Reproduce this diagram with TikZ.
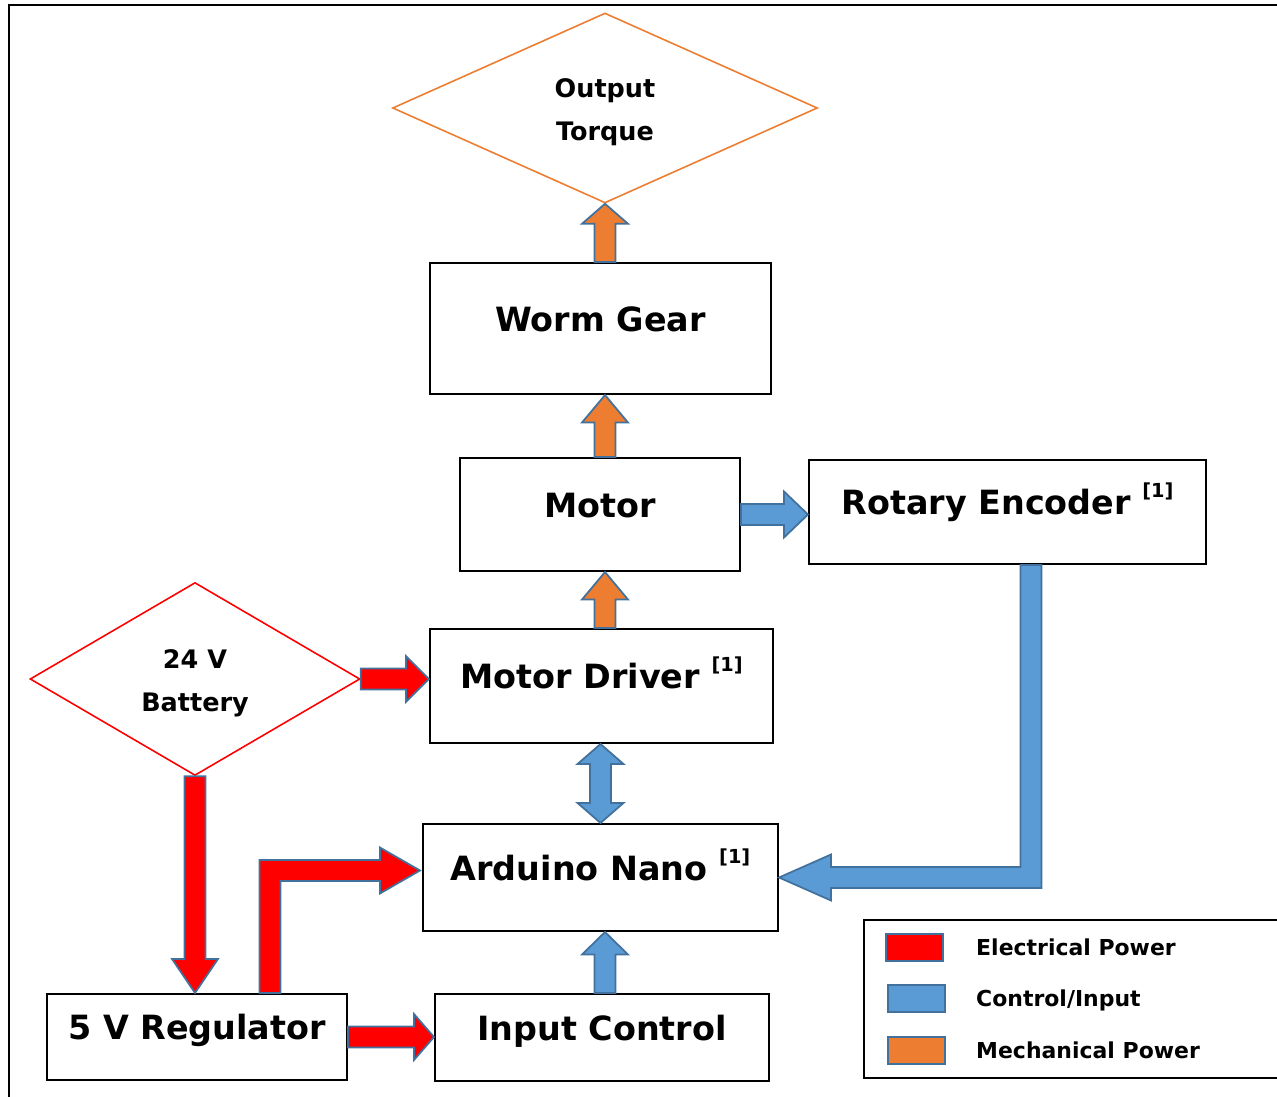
\documentclass[tikz,border=0pt]{standalone}
\usepackage{fontspec}
\setmainfont{DejaVu Sans}
\usetikzlibrary{positioning, shapes.geometric, calc}

\definecolor{elecred}{RGB}{255,0,0}
\definecolor{ctrlblue}{RGB}{91,155,213}
\definecolor{mechorange}{RGB}{237,125,49}
\definecolor{arrowedge}{RGB}{65,113,156}

\tikzset{
  block/.style={draw, line width=1.2pt, fill=white, inner sep=0pt, text height=12pt, text depth=9pt,
    font=\bfseries\fontsize{19}{23}\selectfont},
  goal/.style={diamond, draw, line width=0.9pt, inner sep=0pt, align=center,
    text height=36.5pt, text depth=0pt, font=\bfseries\fontsize{14.5}{24}\selectfont},
  elec/.style={fill=elecred, draw=arrowedge, line width=1pt},
  ctrl/.style={fill=ctrlblue, draw=arrowedge, line width=1pt},
  mech/.style={fill=mechorange, draw=arrowedge, line width=1pt},
  swatch/.style={draw=arrowedge, line width=1pt, minimum width=1.14cm, minimum height=0.54cm, inner sep=0pt},
  keytext/.style={inner sep=0pt, text height=12.2pt, text depth=3pt, font=\bfseries\fontsize{12.5}{15}\selectfont}
}

% reference mark after a part name
\newcommand{\refmark}{\raisebox{9.5pt}{\fontsize{11}{11}\selectfont [1]}}

% half widths of arrow shaft and head
\newcommand{\shaftw}{0.21cm}
\newcommand{\headw}{0.46cm}

% straight block arrow: [head length]{style}{tail}{tip}
\newcommand{\blockarrow}[4][0.44cm]{%
  \coordinate (neck) at ($(#4)!#1!(#3)$);
  \draw[#2] ($(#3)!\shaftw!90:(#4)$) -- ($(neck)!\shaftw!90:(#4)$) -- ($(neck)!\headw!90:(#4)$) -- (#4)
    -- ($(neck)!\headw!-90:(#4)$) -- ($(neck)!\shaftw!-90:(#4)$) -- ($(#3)!\shaftw!-90:(#4)$) -- cycle;}

% block arrow with a head at both ends: [head length]{style}{end a}{end b}
\newcommand{\twowayarrow}[4][0.4cm]{%
  \coordinate (neck a) at ($(#3)!#1!(#4)$);
  \coordinate (neck b) at ($(#4)!#1!(#3)$);
  \draw[#2] (#3) -- ($(neck a)!\headw!90:(#4)$) -- ($(neck a)!\shaftw!90:(#4)$)
    -- ($(neck b)!\shaftw!90:(#4)$) -- ($(neck b)!\headw!90:(#4)$) -- (#4)
    -- ($(neck b)!\headw!-90:(#4)$) -- ($(neck b)!\shaftw!-90:(#4)$)
    -- ($(neck a)!\shaftw!-90:(#4)$) -- ($(neck a)!\headw!-90:(#4)$) -- cycle;}

% bent block arrow: [head length]{style}{tail}{corner}{tip}
\newcommand{\bentarrow}[5][0.8cm]{%
  \coordinate (neck) at ($(#5)!#1!(#4)$);
  \draw[#2] ($(#3)!\shaftw!90:(#4)$)
    -- ($(#4)!\shaftw!90:(#5) + (#3)!\shaftw!90:(#4) - (#3)$)
    -- ($(neck)!\shaftw!90:(#5)$) -- ($(neck)!\headw!90:(#5)$) -- (#5)
    -- ($(neck)!\headw!-90:(#5)$) -- ($(neck)!\shaftw!-90:(#5)$)
    -- ($(#4)!\shaftw!-90:(#5) + (#3)!\shaftw!-90:(#4) - (#3)$)
    -- ($(#3)!\shaftw!-90:(#4)$) -- cycle;}

\begin{document}
\begin{tikzpicture}[x=0.02cm, y=-0.02cm]
  \useasboundingbox (0,0) rectangle (1277,1097);
  \clip (0,0) rectangle (1277,1097);
  \draw[line width=1.6pt] (9,5) rectangle (1320,1130);

  % parts
  \node[goal, draw=mechorange, minimum width=8.5cm, minimum height=3.8cm] (torque) at (605,108) {Output\\Torque};
  \node[block, minimum width=6.82cm, minimum height=2.62cm] (worm) at (600.5,328.5) {Worm Gear};
  \node[block, minimum width=5.6cm, minimum height=2.26cm] (motor) at (600,514.5) {Motor};
  \node[block, minimum width=7.94cm, minimum height=2.08cm] (enc) at (1007.5,512) {Rotary Encoder \refmark};
  \node[block, minimum width=6.86cm, minimum height=2.28cm] (drv) at (601.5,686) {Motor Driver \refmark};
  \node[goal, draw=elecred, minimum width=6.6cm, minimum height=3.86cm] (bat) at (195,679) {24 V\\Battery};
  \node[block, minimum width=7.1cm, minimum height=2.14cm] (ard) at (600.5,877.5) {Arduino Nano \refmark};
  \node[block, minimum width=6cm, minimum height=1.72cm] (reg) at (197,1037) {5 V Regulator};
  \node[block, minimum width=6.68cm, minimum height=1.74cm] (input) at (602,1037.5) {Input Control};

  % mechanical power
  \coordinate (gear out) at (torque.south |- worm.north);
  \coordinate (motor out) at (torque.south |- motor.north);
  \coordinate (gear in) at (torque.south |- worm.south);
  \coordinate (drv out) at (torque.south |- drv.north);
  \coordinate (motor in) at (torque.south |- motor.south);
  \blockarrow[0.4cm]{mech}{gear out}{torque.south}
  \blockarrow[0.55cm]{mech}{motor out}{gear in}
  \blockarrow[0.55cm]{mech}{drv out}{motor in}

  % control / input
  \coordinate (enc in) at (motor.east -| enc.west);
  \blockarrow[0.48cm]{ctrl}{motor.east}{enc in}
  \coordinate (drv link) at (ard.north |- drv.south);
  \twowayarrow[0.4cm]{ctrl}{ard.north}{drv link}
  \coordinate (fb top) at ($(enc.south)+(23.5,0)$);
  \coordinate (fb bend) at (fb top |- ard.east);
  \bentarrow[1.04cm]{ctrl}{fb top}{fb bend}{ard.east}
  \coordinate (in top) at ($(input.north)+(3,0)$);
  \coordinate (ard in) at (in top |- ard.south);
  \blockarrow[0.45cm]{ctrl}{in top}{ard in}

  % electrical power
  \coordinate (drv in) at (bat.east -| drv.west);
  \blockarrow[0.46cm]{elec}{bat.east}{drv in}
  \coordinate (reg in) at (bat.south |- reg.north);
  \blockarrow[0.68cm]{elec}{bat.south}{reg in}
  \coordinate (pw tip) at ($(ard.west)+(-2,-7)$);
  \coordinate (pw top) at ($(reg.north)+(73,0)$);
  \coordinate (pw bend) at (pw top |- pw tip);
  \bentarrow[0.8cm]{elec}{pw top}{pw bend}{pw tip}
  \coordinate (input in) at (reg.east -| input.west);
  \blockarrow[0.4cm]{elec}{reg.east}{input in}

  % key
  \draw[line width=1.6pt] (864,920) rectangle (1320,1078);
  \node[swatch, fill=elecred] (key elec) at (914.5,947.5) {};
  \node[swatch, fill=ctrlblue] (key ctrl) at (916.5,998.5) {};
  \node[swatch, fill=mechorange] (key mech) at (916.5,1050.5) {};
  \node[keytext, right=0.64cm of key elec] (key elec text) {Electrical Power};
  \node[keytext, right=0.6cm of key ctrl] (key ctrl text) {Control/Input};
  \node[keytext, right=0.6cm of key mech] (key mech text) {Mechanical Power};
\end{tikzpicture}
\end{document}
